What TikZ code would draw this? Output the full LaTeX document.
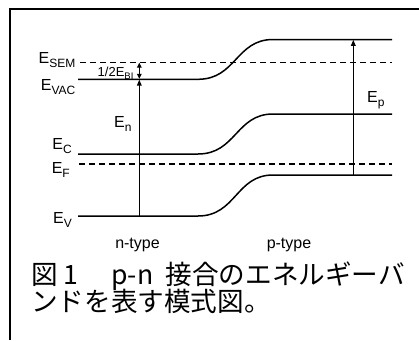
\documentclass[tikz,border=0pt]{standalone}
\usepackage{fontspec}
\setmainfont{Liberation Sans}
\newfontfamily\cjk{Noto Sans CJK JP}
\usetikzlibrary{arrows.meta}
\newcommand\Esub[1]{E\raisebox{-4.5pt}{\fontsize{12}{12}\selectfont #1}}
\tikzset{
  band/.style={line width=1.5pt},
  fermi/.style={line width=1.4pt, dash pattern=on 6pt off 4pt},
  lbl/.style={font=\fontsize{16}{18}\selectfont, inner sep=0pt},
  arr/.style={line width=1.4pt, -{Triangle[length=6pt,width=4.5pt]}},
  darr/.style={line width=1.4pt, {Triangle[length=5pt,width=4.5pt]}-{Triangle[length=5pt,width=4.5pt]}},
  frame/.style={line width=2pt},
  captxt/.style={font=\cjk\fontsize{26.6}{27}\selectfont, inner sep=0pt, anchor=base west},
}
\begin{document}
\begin{tikzpicture}[x=1pt,y=-1pt]
\useasboundingbox (0,0) rectangle (419,340);
% frame
\draw[frame] (10,340) -- (10,9.3) -- (419,9.3);
% level coordinates
\coordinate (vacL) at (78,79.3);
\coordinate (vacR) at (392,39.5);
\coordinate (cL) at (78,154);
\coordinate (cR) at (392,114);
\coordinate (vL) at (78,216);
\coordinate (vR) at (392,175);
\coordinate (semL) at (80,62.7);
\coordinate (semR) at (392,62.7);
\coordinate (fL) at (79,164);
\coordinate (fR) at (392,164);
% bands
\draw[band] (vacL) -- (198,79.3) .. controls (236,79.3) and (236,39.5) .. (273,39.5) -- (vacR);
\draw[band] (cL) -- (198,154) .. controls (236,154) and (236,114) .. (273,114) -- (cR);
\draw[band] (vL) -- (198,216) .. controls (236,216) and (236,175) .. (273,175) -- (vR);
\draw[fermi] (semL) -- (semR);
\draw[fermi] (fL) -- (fR);
% arrow end points
\coordinate (nBot) at (139.3,216);
\coordinate (nTop) at (139.3,79.5);
\coordinate (biTop) at (139.3,62.7);
\coordinate (biBot) at (139.3,78.8);
\coordinate (pBot) at (353.3,175);
\coordinate (pTop) at (353.3,39.8);
\draw[arr] (nBot) -- (nTop);
\draw[darr] (biBot) -- (biTop);
\draw[arr] (pBot) -- (pTop);
% labels
\node[lbl, anchor=base east] (lsem) at (75.5,63) {\Esub{SEM}};
\node[lbl, anchor=base east] (lvac) at (75.5,90) {\Esub{VAC}};
\node[lbl, anchor=base east] (lc) at (72,149) {\Esub{C}};
\node[lbl, anchor=base east] (lf) at (70,173) {\Esub{F}};
\node[lbl, anchor=base east] (lv) at (72,223) {\Esub{V}};
\node[lbl, anchor=base west] (ln) at (114,127) {\Esub{n}};
\node[lbl, anchor=base west] (lp) at (367,102) {\Esub{p}};
\node[inner sep=0pt, anchor=base west, font=\fontsize{13}{14}\selectfont] (lbi) at (97.5,76) {1/2E\raisebox{-3pt}{\fontsize{9.5}{9.5}\selectfont BI}};
\node[lbl, anchor=base] (ntype) at (137.5,248) {n-type};
\node[lbl, anchor=base] (ptype) at (289,248) {p-type};
% caption
\node[captxt] (cap1) at (31,284.5) {\makebox[32.7pt][l]{図}\makebox[47.3pt][l]{1}\makebox[54.5pt][l]{p-n}接合のエネルギーバ};
\node[captxt] (cap2) at (31,311) {ンドを表す模式図。};
\end{tikzpicture}
\end{document}
